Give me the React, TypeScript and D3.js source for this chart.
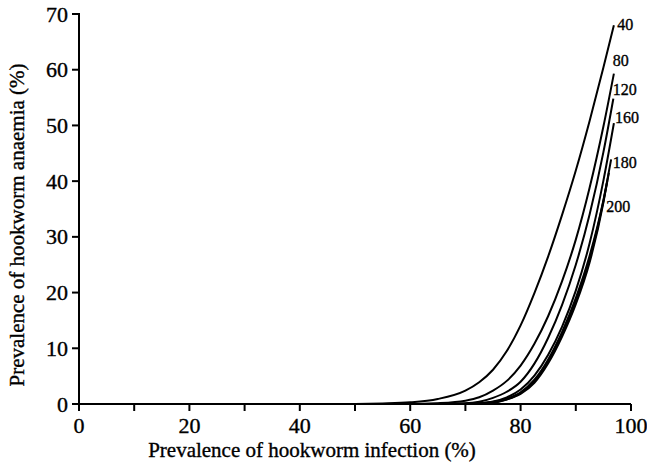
import React from "react";
import * as d3 from "d3";

// ---- data ----
const xTicks = [0, 20, 40, 60, 80, 100];
const xMinorTicks = [10, 30, 50, 70, 90];
const yTicks = [0, 10, 20, 30, 40, 50, 60, 70];

const infection = [0, 20, 40, 50, 55, 60, 65, 70, 72.5, 75, 77.5, 80, 82.5, 85, 87.5, 90, 92.5, 95];

const curve40 = [0, 0, 0, 0.02, 0.1, 0.3, 0.9, 2.4, 3.9, 6.15, 9.5, 14.1, 19.9, 26.5, 33.9, 41.9, 50.8, 60.4];
const curve80 = [0, 0, 0, 0, 0, 0.02, 0.15, 0.6, 1.2, 2.4, 4.15, 6.9, 10.8, 15.8, 22.0, 29.5, 38.8, 49.8];
const curve120 = [0, 0, 0, 0, 0, 0, 0.03, 0.12, 0.4, 1.1, 2.2, 4.0, 7.25, 11.9, 17.75, 25.0, 34.0, 45.2];
const curve160 = [0, 0, 0, 0, 0, 0, 0.01, 0.05, 0.15, 0.45, 1.2, 2.6, 5.1, 8.85, 13.85, 20.35, 28.85, 40.1];
const curve180 = [0, 0, 0, 0, 0, 0, 0, 0.03, 0.1, 0.35, 0.95, 2.1, 4.35, 8.0, 12.9, 19.0, 26.6, 36.6];
const curveExtra = [0, 0, 0, 0, 0, 0, 0, 0.02, 0.08, 0.28, 0.85, 1.95, 4.05, 7.6, 12.4, 18.4, 26.0, 36.4];
const curve200 = [0, 0, 0, 0, 0, 0, 0, 0.02, 0.07, 0.22, 0.8, 1.8, 3.8, 7.3, 12.05, 17.9, 25.4, 36.15];

// end points of each curve [infection %, anaemia %]
const endPoints = [
  [96.9, 68.0],
  [96.9, 59.3],
  [96.8, 54.8],
  [96.9, 50.4],
  [96.4, 43.9],
  [96.0, 41.5],
  [95.7, 40.0],
];

const seriesLabels = ["40", "80", "120", "160", "180", "", "200"];
const seriesValues = [curve40, curve80, curve120, curve160, curve180, curveExtra, curve200];

// label anchors in data units [infection %, anaemia %]
const labelAnchors = [
  [97.5, 68.2],
  [96.7, 61.6],
  [96.7, 56.4],
  [97.1, 51.5],
  [96.7, 43.4],
  [0, 0],
  [95.5, 35.4],
];

const xTitle = "Prevalence of hookworm infection (%)";
const yTitle = "Prevalence of hookworm anaemia (%)";

export default function App() {
  const W = 647;
  const H = 466;
  const x = d3.scaleLinear().domain([0, 100]).range([79, 631]);
  const y = d3.scaleLinear().domain([0, 70]).range([404, 14]);
  const font = "'Liberation Serif', 'Times New Roman', serif";
  const line = d3
    .line<[number, number]>()
    .x((d) => x(d[0]))
    .y((d) => y(d[1]))
    .curve(d3.curveMonotoneX);

  const tickLen = 7;
  const textStroke = { stroke: "#000", strokeWidth: 0.35 };
  return (
    <svg
      width={W}
      height={H}
      style={{ position: "absolute", left: 0, top: 0, background: "#fff" }}
      fontFamily={font}
    >
      <rect x={0} y={0} width={W} height={H} fill="#fff" />
      {/* curves */}
      {seriesValues.map((vals, i) => {
        const pts: [number, number][] = infection.map((p, j) => [p, vals[j]]);
        pts.push([endPoints[i][0], endPoints[i][1]]);
        return (
          <path
            key={i}
            d={line(pts) || ""}
            fill="none"
            stroke="#000"
            strokeWidth={2}
          />
        );
      })}
      {/* axes */}
      <line x1={x(0)} x2={x(100)} y1={y(0)} y2={y(0)} stroke="#000" strokeWidth={2} />
      <line x1={x(0)} x2={x(0)} y1={y(0)} y2={y(70) - 1} stroke="#000" strokeWidth={2} />
      {[...xTicks, ...xMinorTicks].map((t) => (
        <line
          key={"xt" + t}
          x1={x(t)}
          x2={x(t)}
          y1={y(0)}
          y2={y(0) + tickLen}
          stroke="#000"
          strokeWidth={2}
        />
      ))}
      {xTicks.map((t) => (
        <text
          key={"xl" + t}
          x={x(t)}
          y={y(0) + 29}
          fontSize={22}
          textAnchor="middle"
          fill="#000"
          {...textStroke}
        >
          {t}
        </text>
      ))}
      {yTicks.map((t) => (
        <g key={"yt" + t}>
          <line
            x1={x(0) - tickLen}
            x2={x(0)}
            y1={y(t)}
            y2={y(t)}
            stroke="#000"
            strokeWidth={2}
          />
          <text
            x={x(0) - 11}
            y={y(t) + 7.5}
            fontSize={22}
            textAnchor="end"
            fill="#000"
            {...textStroke}
          >
            {t}
          </text>
        </g>
      ))}
      {/* curve labels */}
      {seriesLabels.map((lab, i) =>
        lab ? (
          <text
            key={"lab" + i}
            x={x(labelAnchors[i][0])}
            y={y(labelAnchors[i][1]) + 5.5}
            fontSize={16}
            fill="#000"
            {...textStroke}
          >
            {lab}
          </text>
        ) : null
      )}
      {/* axis titles */}
      <text x={312} y={457} fontSize={21} textAnchor="middle" fill="#000" {...textStroke}>
        {xTitle}
      </text>
      <text
        transform={`translate(24, 225) rotate(-90)`}
        fontSize={21}
        textAnchor="middle"
        fill="#000"
        {...textStroke}
      >
        {yTitle}
      </text>
    </svg>
  );
}
